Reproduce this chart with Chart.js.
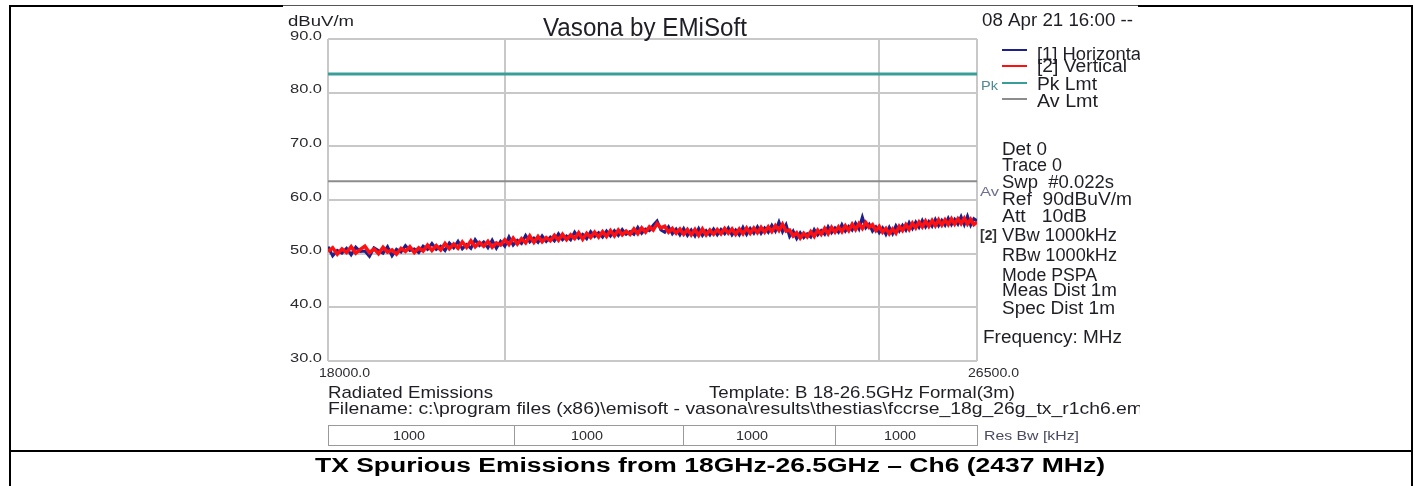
<!DOCTYPE html>
<html>
<head>
<meta charset="utf-8">
<script src="https://cdn.jsdelivr.net/npm/chart.js@4/dist/chart.umd.min.js"></script>
<style>
  html, body { margin: 0; padding: 0; background: #fff; }
  #chart { position: absolute; left: 0; top: 0; }
</style>
</head>
<body>
<canvas id="chart" width="1415" height="486"></canvas>
<script>
// Frequency points (MHz) of the two sweeps
const freqs = [
    18000, 18050, 18100, 18150, 18200, 18250, 18300, 18350, 18400, 18450,
    18500, 18550, 18600, 18650, 18700, 18750, 18800, 18850, 18900, 18950,
    19000, 19050, 19100, 19150, 19200, 19250, 19300, 19350, 19400, 19450,
    19500, 19550, 19600, 19650, 19700, 19750, 19800, 19850, 19900, 19950,
    20000, 20050, 20100, 20150, 20200, 20250, 20300, 20350, 20400, 20450,
    20500, 20550, 20600, 20650, 20700, 20750, 20800, 20850, 20900, 20950,
    21000, 21050, 21100, 21150, 21200, 21250, 21300, 21350, 21400, 21450,
    21500, 21550, 21600, 21650, 21700, 21750, 21800, 21850, 21900, 21950,
    22000, 22050, 22100, 22150, 22200, 22250, 22300, 22350, 22400, 22450,
    22500, 22550, 22600, 22650, 22700, 22750, 22800, 22850, 22900, 22950,
    23000, 23050, 23100, 23150, 23200, 23250, 23300, 23350, 23400, 23450,
    23500, 23550, 23600, 23650, 23700, 23750, 23800, 23850, 23900, 23950,
    24000, 24050, 24100, 24150, 24200, 24250, 24300, 24350, 24400, 24450,
    24500, 24550, 24600, 24650, 24700, 24750, 24800, 24850, 24900, 24950,
    25000, 25050, 25100, 25150, 25200, 25250, 25300, 25350, 25400, 25450,
    25500, 25550, 25600, 25650, 25700, 25750, 25800, 25850, 25900, 25950,
    26000, 26050, 26100, 26150, 26200, 26250, 26300, 26350, 26400, 26450,
    26500
];

// [1] Horizontal trace (dBuV/m)
const horizontal = [
    51.3, 49.6, 50.6, 50.1, 51.0, 49.8, 51.2, 50.4, 50.5, 49.5, 51.1, 50.6, 50.1, 51.3, 49.6, 50.8, 50.3, 51.5, 50.6, 50.9,
    50.2, 51.4, 50.8, 51.9, 50.8, 51.4, 50.6, 52.0, 51.1, 52.3, 50.9, 51.7, 51.0, 52.6, 51.5, 52.2, 51.1, 52.5, 51.0, 52.3,
    51.4, 53.1, 51.6, 52.5, 51.9, 53.4, 52.2, 52.9, 52.1, 53.3, 52.3, 53.1, 52.4, 53.7, 52.6, 53.3, 52.6, 54.0, 52.9, 53.6,
    52.8, 54.1, 53.2, 53.9, 53.1, 54.2, 53.3, 54.3, 53.4, 54.5, 53.6, 54.1, 53.6, 54.9, 53.8, 54.6, 54.3, 55.3, 56.1, 54.4,
    54.0, 55.0, 53.7, 54.6, 53.5, 54.7, 53.4, 54.4, 53.3, 54.7, 53.4, 54.3, 53.5, 54.6, 53.5, 54.5, 53.7, 54.8, 53.5, 54.4,
    53.5, 54.9, 53.6, 54.7, 53.8, 55.0, 53.8, 54.8, 54.0, 55.3, 54.2, 55.9, 54.1, 55.4, 53.2, 54.2, 52.8, 53.9, 53.0, 53.7,
    53.1, 54.5, 53.5, 54.3, 53.6, 55.0, 53.9, 54.8, 54.0, 55.4, 54.2, 55.1, 54.4, 55.7, 54.6, 56.8, 54.8, 55.5, 54.2, 55.0,
    53.9, 54.8, 53.6, 54.9, 53.7, 55.2, 54.2, 55.3, 54.4, 55.8, 54.7, 55.9, 54.9, 56.2, 55.0, 56.0, 55.1, 56.4, 55.2, 56.2,
    55.3, 56.6, 55.4, 56.4, 55.5, 56.9, 55.4, 57.0, 55.3, 56.5,
    56.1
];

// [2] Vertical trace (dBuV/m)
const vertical = [
    50.4, 51.1, 49.9, 50.9, 50.2, 51.3, 50.1, 50.8, 51.4, 50.2, 50.9, 50.0, 51.2, 50.3, 50.7, 49.9, 51.0, 50.4, 51.3, 50.2,
    51.1, 50.5, 51.6, 50.6, 51.5, 50.7, 51.9, 50.9, 51.8, 51.0, 52.2, 51.2, 52.4, 51.3, 52.1, 51.4, 52.3, 51.2, 52.0, 51.6,
    52.6, 51.7, 52.9, 51.8, 52.8, 52.0, 53.3, 52.1, 53.2, 52.2, 53.0, 52.4, 53.4, 52.5, 53.6, 52.6, 53.5, 52.8, 53.9, 52.7,
    53.8, 53.0, 54.0, 53.1, 54.1, 53.2, 54.3, 53.3, 54.4, 53.5, 54.2, 53.6, 54.6, 53.7, 54.8, 54.0, 55.0, 54.4, 55.6, 54.8,
    55.1, 54.0, 54.7, 53.8, 54.6, 53.6, 54.5, 53.5, 54.5, 53.4, 54.6, 53.5, 54.4, 53.6, 54.5, 53.7, 54.7, 53.8, 54.6, 53.6,
    54.6, 53.7, 54.8, 53.8, 54.8, 53.9, 54.9, 54.0, 55.0, 54.1, 55.2, 54.3, 55.5, 54.2, 54.4, 53.3, 53.9, 52.9, 53.8, 53.1,
    54.1, 53.2, 54.4, 53.6, 54.7, 53.7, 54.9, 54.0, 55.0, 54.1, 55.2, 54.3, 55.5, 54.5, 55.6, 54.7, 55.8, 54.9, 55.4, 54.3,
    55.1, 54.0, 54.7, 53.7, 54.6, 53.8, 55.1, 54.3, 55.4, 54.5, 55.7, 54.8, 55.9, 55.0, 56.1, 55.1, 56.2, 55.2, 56.3, 55.3,
    56.3, 55.4, 56.5, 55.5, 56.5, 55.6, 56.6, 55.5, 56.4, 55.4,
    55.9
];

// Limit lines
const limitFreqs = [18000, 26500];
const pkLimit = [83.5, 83.5];
const avLimit = [63.5, 63.5];

// Axis values
const yTicks = [30, 40, 50, 60, 70, 80, 90];
const xGridFreqs = [18000, 20000, 25000, 26500];
const xEndLabels = [18000, 26500];

// Res Bw row under the plot
const resBw = ["1000", "1000", "1000", "1000"];

const legendItems = ["[1] Horizontal", "[2] Vertical", "Pk Lmt", "Av Lmt"];
const settings = ["Det 0", "Trace 0", "Swp  #0.022s", "Ref  90dBuV/m", "Att   10dB",
    "VBw 1000kHz", "RBw 1000kHz", "Mode PSPA", "Meas Dist 1m", "Spec Dist 1m"];

const COL_H = "#20208a";
const COL_V = "#ff1010";
const COL_PK = "#3a9e98";
const COL_AV = "#8c8c8c";
const TEXT = "#1e1e26";
const FONT = '"Liberation Sans", Arial, sans-serif';

function toPoints(xs, ys) {
    return xs.map((x, i) => ({ x: x, y: ys[i] }));
}

// Draw text squeezed/stretched horizontally to a target width
function fitText(ctx, text, x, y, size, width, opts) {
    opts = opts || {};
    ctx.save();
    ctx.font = (opts.bold ? "bold " : "") + size + "px " + FONT;
    ctx.fillStyle = opts.color || TEXT;
    ctx.textBaseline = opts.baseline || "alphabetic";
    const w = ctx.measureText(text).width;
    const sx = width ? width / w : 1;
    let left = x;
    if (opts.align === "right") left = x - w * sx;
    if (opts.align === "center") left = x - w * sx / 2;
    ctx.translate(left, y);
    ctx.scale(sx, 1);
    ctx.fillText(text, 0, 0);
    ctx.restore();
}

const decorations = {
    id: "decorations",
    afterDraw(chart) {
        const ctx = chart.ctx;
        const xs = chart.scales.x;
        const ys = chart.scales.y;

        // outer table frame
        ctx.save();
        ctx.fillStyle = "#000";
        ctx.fillRect(9, 5, 2, 481);
        ctx.fillRect(1411, 5, 2, 481);
        ctx.fillRect(9, 5, 274, 2);
        ctx.fillRect(1138, 5, 275, 2);
        ctx.fillRect(9, 450, 1404, 2);
        ctx.fillStyle = "#555";
        ctx.fillRect(283, 5, 855, 1);
        ctx.restore();

        // clip to the screenshot region
        ctx.save();
        ctx.beginPath();
        ctx.rect(280, 7, 860, 443);
        ctx.clip();

        fitText(ctx, "dBuV/m", 288, 26, 15, 66);
        fitText(ctx, "Vasona by EMiSoft", 543, 36, 25, 204);
        fitText(ctx, "08 Apr 21 16:00 --", 982, 26, 18, 151);

        // y tick labels
        yTicks.forEach(v => {
            fitText(ctx, v.toFixed(1), 322, ys.getPixelForValue(v) - 3, 13, 32,
                { align: "right", baseline: "middle", color: "#2a2a30" });
        });

        // x end labels
        xEndLabels.forEach(f => {
            fitText(ctx, f.toFixed(1), xs.getPixelForValue(f) - 9, 377, 13, 51, { color: "#2a2a30" });
        });

        // legend
        const legendColors = [COL_H, COL_V, COL_PK, COL_AV];
        const lineYs = [50, 66, 83, 99];
        const textYs = [60, 72, 90, 107];
        const textWs = [108, 90, 60, 61];
        legendItems.forEach((t, i) => {
            ctx.fillStyle = legendColors[i];
            ctx.fillRect(1002, lineYs[i] - 1, 25, 2);
            fitText(ctx, t, 1037, textYs[i], 18, textWs[i]);
        });

        // limit tags next to plot
        fitText(ctx, "Pk", 981, 90, 13, 17, { color: "#4d8b90" });
        fitText(ctx, "Av", 980, 196, 13, 19, { color: "#6e7090" });
        fitText(ctx, "[2]", 980, 240, 14, 17, { bold: true, color: "#333" });

        // settings block
        const setYs = [155, 171, 188, 205, 222, 241, 261, 281, 296, 314];
        const setWs = [45, 60, 112, 130, 85, 115, 115, 95, 115, 113];
        settings.forEach((t, i) => fitText(ctx, t, 1002, setYs[i], 18, setWs[i]));
        fitText(ctx, "Frequency: MHz", 983, 343, 18, 139);

        // footer texts
        fitText(ctx, "Radiated Emissions", 328, 398, 17, 165);
        fitText(ctx, "Template: B 18-26.5GHz Formal(3m)", 709, 398, 17, 306);
        fitText(ctx, "Filename: c:\\program files (x86)\\emisoft - vasona\\results\\thestias\\fccrse_18g_26g_tx_r1ch6.em",
            328, 414, 17, 815);

        // Res Bw table
        const cellXs = [328, 514, 683, 835, 977];
        const cellCenters = [409, 587, 752, 900];
        ctx.strokeStyle = "#9a9a9a";
        ctx.lineWidth = 1;
        ctx.strokeRect(cellXs[0] + 0.5, 425.5, cellXs[4] - cellXs[0], 20);
        cellXs.slice(1, 4).forEach(cx => {
            ctx.beginPath();
            ctx.moveTo(cx + 0.5, 425.5);
            ctx.lineTo(cx + 0.5, 445.5);
            ctx.stroke();
        });
        resBw.forEach((t, i) => fitText(ctx, t, cellCenters[i], 440, 13, 32, { align: "center", color: "#2a2a30" }));
        fitText(ctx, "Res Bw [kHz]", 984, 440, 13, 95, { color: "#4a4a60" });
        ctx.restore();

        // caption
        fitText(ctx, "TX Spurious Emissions from 18GHz-26.5GHz \u2013 Ch6 (2437 MHz)", 315, 472, 20, 790,
            { bold: true, color: "#000" });
    }
};

new Chart(document.getElementById("chart").getContext("2d"), {
    type: "line",
    data: {
        datasets: [
            { label: "[2] Vertical", data: toPoints(freqs, vertical), borderColor: COL_V, borderWidth: 3.5, order: 0 },
            { label: "[1] Horizontal", data: toPoints(freqs, horizontal), borderColor: COL_H, borderWidth: 3, order: 1 },
            { label: "Pk Lmt", data: toPoints(limitFreqs, pkLimit), borderColor: COL_PK, borderWidth: 3, order: 2 },
            { label: "Av Lmt", data: toPoints(limitFreqs, avLimit), borderColor: COL_AV, borderWidth: 2, order: 2 }
        ]
    },
    options: {
        responsive: false,
        animation: false,
        devicePixelRatio: 1,
        layout: { padding: { left: 328, right: 438, top: 39, bottom: 125 } },
        elements: { point: { radius: 0 }, line: { tension: 0 } },
        plugins: { legend: { display: false }, title: { display: false }, tooltip: { enabled: false } },
        scales: {
            x: {
                type: "logarithmic",
                min: 18000,
                max: 26500,
                afterBuildTicks: scale => { scale.ticks = xGridFreqs.map(v => ({ value: v })); },
                ticks: { display: false },
                grid: { color: "#c8c8c8", lineWidth: 2, drawTicks: false },
                border: { display: false }
            },
            y: {
                min: 30,
                max: 90,
                afterBuildTicks: scale => { scale.ticks = yTicks.map(v => ({ value: v })); },
                ticks: { display: false },
                grid: { color: "#c8c8c8", lineWidth: 2, drawTicks: false },
                border: { display: false }
            }
        }
    },
    plugins: [decorations]
});
</script>
</body>
</html>
